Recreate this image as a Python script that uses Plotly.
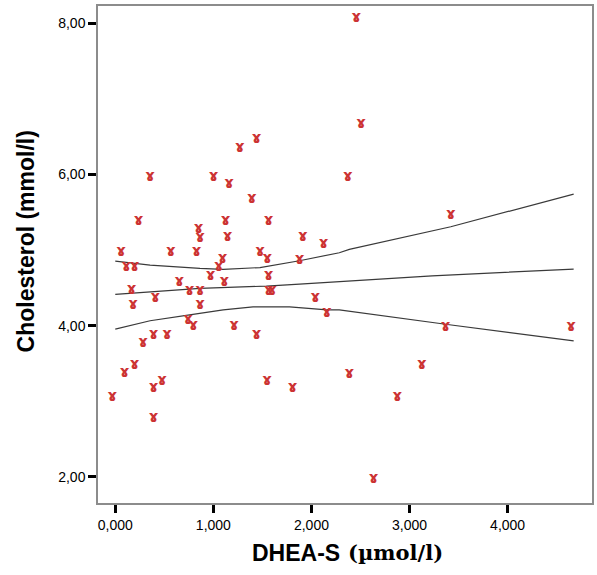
import plotly.graph_objects as go

# Scatter data: DHEA-S (umol/l) vs Cholesterol (mmol/l)
dhea = [0.355, 1.002, 1.160, 1.269, 1.439, 1.391, 2.457, 2.505, 2.369, 3.421,
        1.912, 2.122, 0.237, 0.850, 0.863, 1.124, 1.144, 1.563, 0.058, 0.565,
        0.829, 1.475, 1.093, 1.550, 1.878, 0.112, 0.196, 1.056, 0.972, 1.563,
        0.653, 1.110, 0.165, 0.758, 0.863, 1.563, 1.597, 0.409, 2.038, 0.180,
        0.863, 2.155, 0.741, 0.795, 1.211, 1.439, 0.284, 0.389, 0.528, 0.196,
        0.094, 0.477, 0.389, 1.546, 1.807, -0.030, 0.389, 3.367, 4.647, 2.386,
        3.124, 2.876, 2.632]
chol = [5.96, 5.96, 5.87, 6.35, 6.47, 5.67, 8.07, 6.67, 5.96, 5.46,
        5.17, 5.08, 5.38, 5.27, 5.16, 5.38, 5.17, 5.38, 4.97, 4.97,
        4.97, 4.97, 4.88, 4.88, 4.87, 4.77, 4.77, 4.77, 4.66, 4.66,
        4.57, 4.57, 4.47, 4.46, 4.46, 4.46, 4.46, 4.37, 4.37, 4.27,
        4.27, 4.16, 4.07, 3.99, 3.99, 3.87, 3.77, 3.87, 3.87, 3.48,
        3.37, 3.27, 3.17, 3.27, 3.17, 3.06, 2.77, 3.98, 3.98, 3.36,
        3.48, 3.06, 1.97]

# Fit line and confidence band
fit_x = [0.0, 0.863, 1.54, 1.878, 3.23, 4.673]
fit_y = [4.415, 4.495, 4.525, 4.55, 4.66, 4.75]
upper_x = [0.0, 0.355, 0.863, 1.10, 1.475, 1.878, 2.284, 2.386, 3.42, 4.673]
upper_y = [4.856, 4.803, 4.759, 4.746, 4.77, 4.86, 4.966, 5.01, 5.31, 5.742]
lower_x = [0.0, 0.355, 0.741, 1.10, 1.404, 1.777, 2.159, 2.284, 3.367, 4.673]
lower_y = [3.956, 4.066, 4.14, 4.21, 4.25, 4.25, 4.21, 4.21, 4.02, 3.80]

x_ticks = [0, 1, 2, 3, 4]
y_ticks = [2, 4, 6, 8]

fig = go.Figure()
for lx, ly in [(upper_x, upper_y), (fit_x, fit_y), (lower_x, lower_y)]:
    fig.add_trace(go.Scatter(x=lx, y=ly, mode="lines",
                             line=dict(color="#3a3a3a", width=1.2),
                             hoverinfo="skip", showlegend=False))

fig.add_trace(go.Scatter(
    x=dhea, y=chol, mode="text", text=["<b>ɤ</b>"] * len(dhea),
    textposition="middle center",
    textfont=dict(family="DejaVu Sans", size=15, color="#cc3333"),
    showlegend=False))

fig.update_layout(
    width=597, height=575,
    margin=dict(l=98, r=3, t=6, b=72),
    plot_bgcolor="white", paper_bgcolor="white",
    separators=",.",
    font=dict(family="Arial, Liberation Sans", color="black"),
    showlegend=False,
)
fig.update_xaxes(
    range=[-0.176, 4.86], tickvals=x_ticks, tickformat=".3f",
    showgrid=False, zeroline=False,
    showline=True, mirror=True, linecolor="#8c8c8c", linewidth=1.5,
    ticks="outside", ticklen=8, tickwidth=3, tickcolor="black",
    tickfont=dict(size=14, family="Arial, Liberation Sans"),
)
fig.update_yaxes(
    range=[1.655, 8.23], tickvals=y_ticks, tickformat=".2f",
    showgrid=False, zeroline=False,
    showline=True, mirror=True, linecolor="#8c8c8c", linewidth=1.5,
    ticks="outside", ticklen=8, tickwidth=3, tickcolor="black",
    tickfont=dict(size=14, family="Arial, Liberation Sans"),
)

# Axis titles (x title mixes a sans and a serif face)
fig.add_annotation(text="<b>DHEA-S</b>", xref="paper", yref="paper",
                   x=0.494, y=-0.10, xanchor="right", yanchor="middle",
                   showarrow=False,
                   font=dict(size=23, family="Arial, Liberation Sans"))
fig.add_annotation(text="<b>(µmol/l)</b>", xref="paper", yref="paper",
                   x=0.502, y=-0.10, xanchor="left", yanchor="middle",
                   showarrow=False,
                   font=dict(size=21, family="DejaVu Serif, serif"))
fig.add_annotation(text="<b>Cholesterol (mmol/l)</b>", xref="paper", yref="paper",
                   x=-0.145, y=0.527, xanchor="center", yanchor="middle",
                   textangle=-90, showarrow=False,
                   font=dict(size=23, family="Arial, Liberation Sans"))

fig.write_html("out.html")
